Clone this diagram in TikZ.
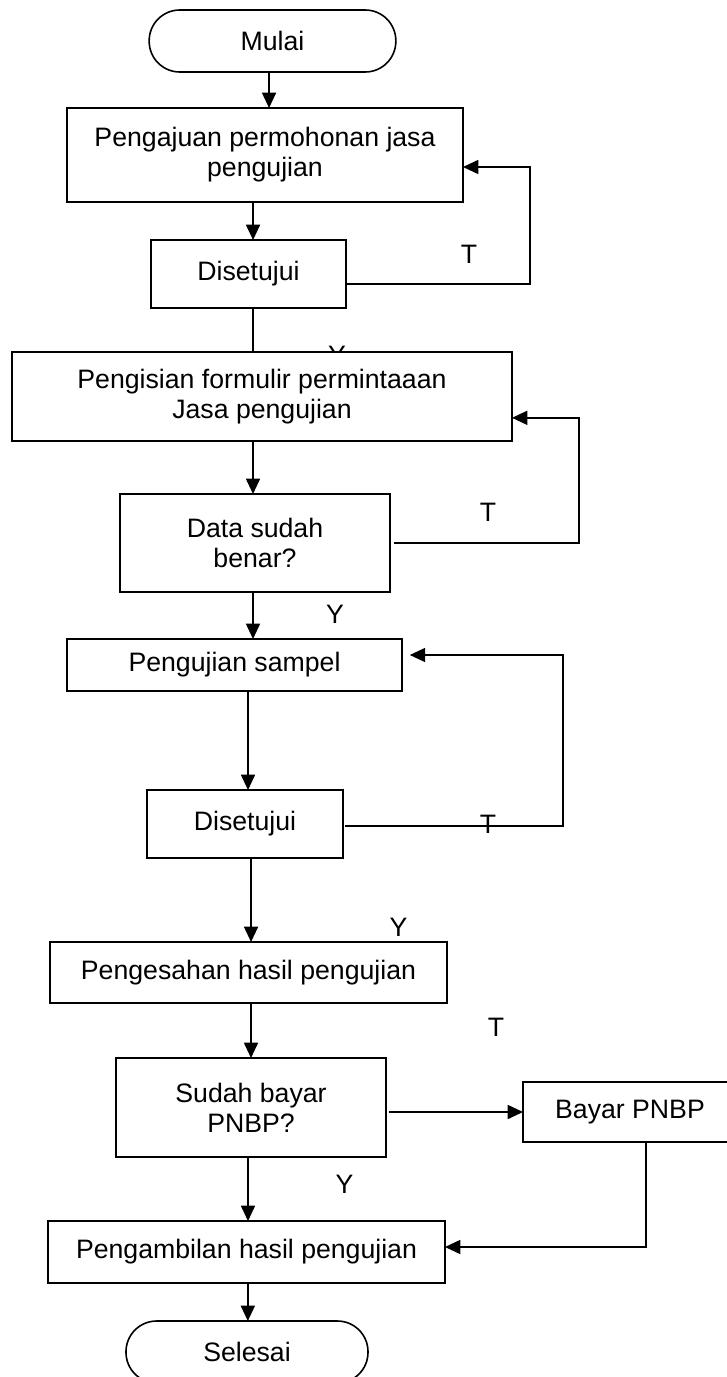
\documentclass[tikz,border=0pt]{standalone}
\usepackage{fontspec}
\setmainfont{Liberation Sans}
\usetikzlibrary{arrows.meta,backgrounds}

\tikzset{
  proses/.style={draw,line width=1.2pt,fill=white,inner sep=0pt,outer sep=0pt,align=center,font=\fontsize{20}{22.5}\selectfont},
  terminal/.style={proses,rounded corners=23pt},
  panah/.style={line width=1.3pt,-{Triangle[length=11.5pt,width=10.5pt]}},
  label/.style={inner sep=0pt,font=\fontsize{20}{22.5}\selectfont}
}

\begin{document}
\begin{tikzpicture}[x=0.75pt,y=0.75pt,yscale=-1,xscale=1]
\useasboundingbox (0,0) rectangle (727,1377);

%Shape: Terminal
\draw (272.5,41) node [terminal,minimum width=185pt,minimum height=46.5pt] (mulai) {Mulai};
%Shape: Rectangle
\draw (265,155) node [proses,minimum width=297pt,minimum height=70.5pt] (ajukan) {Pengajuan permohonan jasa\\pengujian};
%Shape: Rectangle
\draw (248.5,274) node [proses,minimum width=146pt,minimum height=51pt] (setuju1) {Disetujui};
%Shape: Rectangle
\draw (262,396.5) node [proses,minimum width=375pt,minimum height=66.75pt] (isiform) {Pengisian formulir permintaaan\\Jasa pengujian};
%Shape: Rectangle
\draw (255,543) node [proses,minimum width=202.5pt,minimum height=73.5pt] (cekdata) {Data sudah\\benar?};
%Shape: Rectangle
\draw (234.5,665) node [proses,minimum width=251pt,minimum height=39pt] (ujisampel) {Pengujian sampel};
%Shape: Rectangle
\draw (245,824) node [proses,minimum width=147pt,minimum height=51pt] (setuju2) {Disetujui};
%Shape: Rectangle
\draw (248.5,972.5) node [proses,minimum width=297.75pt,minimum height=45.75pt] (sahkan) {Pengesahan hasil pengujian};
%Shape: Rectangle
\draw (251,1107.5) node [proses,minimum width=202.5pt,minimum height=74.25pt] (cekbayar) {Sudah bayar\\PNBP?};
%Shape: Rectangle
\draw (630,1112) node [proses,minimum width=160.5pt,minimum height=45pt] (bayar) {Bayar PNBP};
%Shape: Rectangle
\draw (246.5,1252) node [proses,minimum width=297.75pt,minimum height=46.5pt] (ambil) {Pengambilan hasil pengujian};
%Shape: Terminal
\draw (247,1352) node [terminal,minimum width=181.5pt,minimum height=46.5pt] (selesai) {Selesai};

\begin{pgfonlayer}{background}
%Straight Lines: hidden under the form box
\draw [panah] ([xshift=3.4pt]setuju1.south) -- ([xshift=3.4pt,yshift=10.8pt]setuju1.south |- isiform.north);
% Text Node
\draw (337,355) node [label] (ya1) {Y};
\end{pgfonlayer}

%Straight Lines
\draw [panah] ([xshift=-2.6pt]mulai.south) -- ([xshift=-2.6pt]mulai.south |- ajukan.north);
\draw [panah] ([xshift=3.4pt]setuju1.north |- ajukan.south) -- ([xshift=3.4pt]setuju1.north);
\draw [panah] ([xshift=-1.5pt]cekdata.north |- isiform.south) -- ([xshift=-1.5pt]cekdata.north);
\draw [panah] ([xshift=-1.5pt]cekdata.south) -- ([xshift=-1.5pt]cekdata.south |- ujisampel.north);
\draw [panah] ([xshift=2.25pt]setuju2.north |- ujisampel.south) -- ([xshift=2.25pt]setuju2.north);
\draw [panah] ([xshift=1.9pt]sahkan.north |- setuju2.south) -- ([xshift=1.9pt]sahkan.north);
\draw [panah] (cekbayar.north |- sahkan.south) -- (cekbayar.north);
\draw [panah] ([xshift=2.25pt]cekbayar.east |- bayar.west) -- (bayar.west);
\draw [panah] ([xshift=-2.25pt]cekbayar.south) -- ([xshift=-2.25pt]cekbayar.south |- ambil.north);
\draw [panah] ([xshift=1pt]ambil.south) -- ([xshift=1pt]ambil.south |- selesai.north);

%Loops back (T)
\draw [panah] ([yshift=7.5pt]setuju1.east) -- ++(184,0) |- ([yshift=9pt]ajukan.east);
\draw [panah] ([xshift=3pt]cekdata.east) -- ++(185,0) |- ([yshift=16pt]isiform.east);
\draw [panah] ([xshift=1.5pt,yshift=1.5pt]setuju2.east) -- ++(218,0) |- ([xshift=6pt,yshift=-7.5pt]ujisampel.east);
\draw [panah] ([xshift=12pt]bayar.south) |- ([yshift=-3.75pt]ambil.east);

% Text Node
\draw (469,254) node [label] (tidak1) {T};
% Text Node
\draw (488,512) node [label] (tidak2) {T};
% Text Node
\draw (335,614) node [label] (ya2) {Y};
% Text Node
\draw (488,824) node [label] (tidak3) {T};
% Text Node
\draw (398.5,927) node [label] (ya3) {Y};
% Text Node
\draw (496,1027) node [label] (tidak4) {T};
% Text Node
\draw (344.5,1184) node [label] (ya4) {Y};

\end{tikzpicture}
\end{document}
